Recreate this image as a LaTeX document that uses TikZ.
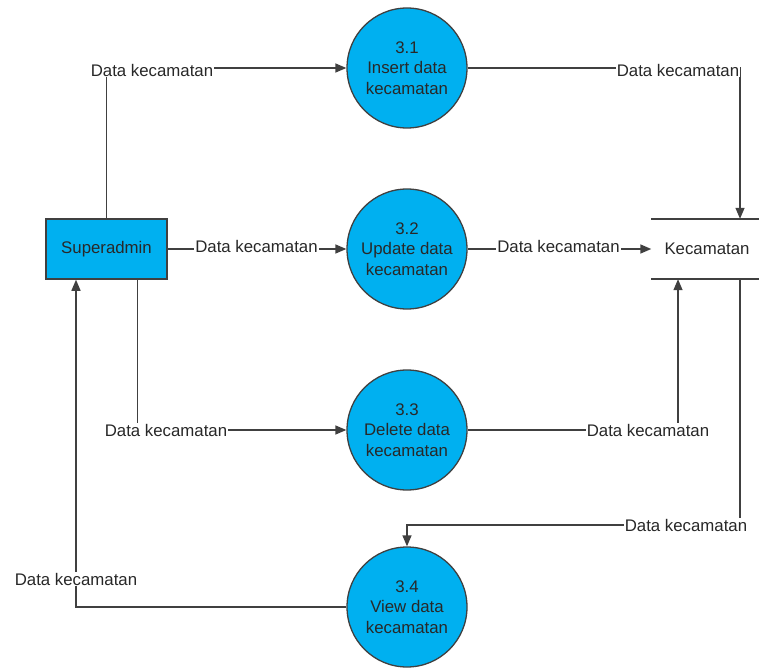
\documentclass[tikz,border=0pt]{standalone}
\usepackage{fontspec}
\setmainfont{Liberation Sans}
\usetikzlibrary{arrows.meta}
\definecolor{procfill}{RGB}{0,176,240}
\definecolor{linec}{RGB}{64,64,64}
\definecolor{txtc}{RGB}{40,40,40}
\begin{document}
\begin{tikzpicture}[x=1pt,y=-1pt,
  every node/.style={font=\fontsize{16.8}{20.5}\selectfont, text=txtc},
  proc/.style={circle, draw=linec, line width=1.3pt, fill=procfill, minimum size=120pt, inner sep=0pt, align=center},
  ent/.style={rectangle, draw=linec, line width=1.5pt, fill=procfill, minimum width=121pt, minimum height=60pt, inner sep=0pt},
  store/.style={rectangle, minimum width=111pt, minimum height=60pt, inner sep=0pt},
  flow/.style={draw=linec, line width=1.4pt, -{Triangle[length=11pt,width=9pt]}},
  plain/.style={draw=linec, line width=1.5pt},
  lab/.style={fill=white, inner sep=1pt}
]
\useasboundingbox (0,0) rectangle (759,668);

\node[ent] (sa) at (106.5,249) {Superadmin};
\node[proc] (p31) at (407,68) {3.1\\Insert data\\kecamatan};
\node[proc] (p32) at (407,249) {3.2\\Update data\\kecamatan};
\node[proc] (p33) at (407,430) {3.3\\Delete data\\kecamatan};
\node[proc] (p34) at (407,607) {3.4\\View data\\kecamatan};
\node[store] (ks) at (707,249) {Kecamatan};
\draw[plain] (ks.north west) -- (ks.north east);
\draw[plain] (ks.south west) -- (ks.south east);

\coordinate (c7) at (407,525);

% flows
\draw[flow] (sa.north) |- (p31.west);
\draw[flow] (p31.east) -| ([xshift=33pt]ks.north);
\draw[flow] (sa.east) -- (p32.west);
\draw[flow] (p32.east) -- (ks.west);
\draw[flow] ([xshift=31pt]sa.south) |- (p33.west);
\draw[flow] (p33.east) -| ([xshift=-29pt]ks.south);
\draw[flow] ([xshift=33pt]ks.south) |- (c7) -- (p34.north);
\draw[flow] (p34.west) -| ([xshift=-30.5pt]sa.south);

% labels
\node[lab] (l1) at (152,70) {Data kecamatan};
\node[lab] (l2) at (678,70) {Data kecamatan};
\node[lab] (l3) at (256.5,246) {Data kecamatan};
\node[lab] (l4) at (558.5,246) {Data kecamatan};
\node[lab] (l5) at (166,430) {Data kecamatan};
\node[lab] (l6) at (648,430) {Data kecamatan};
\node[lab] (l7) at (686,525) {Data kecamatan};
\node[lab] (l8) at (76,579) {Data kecamatan};
\end{tikzpicture}
\end{document}
